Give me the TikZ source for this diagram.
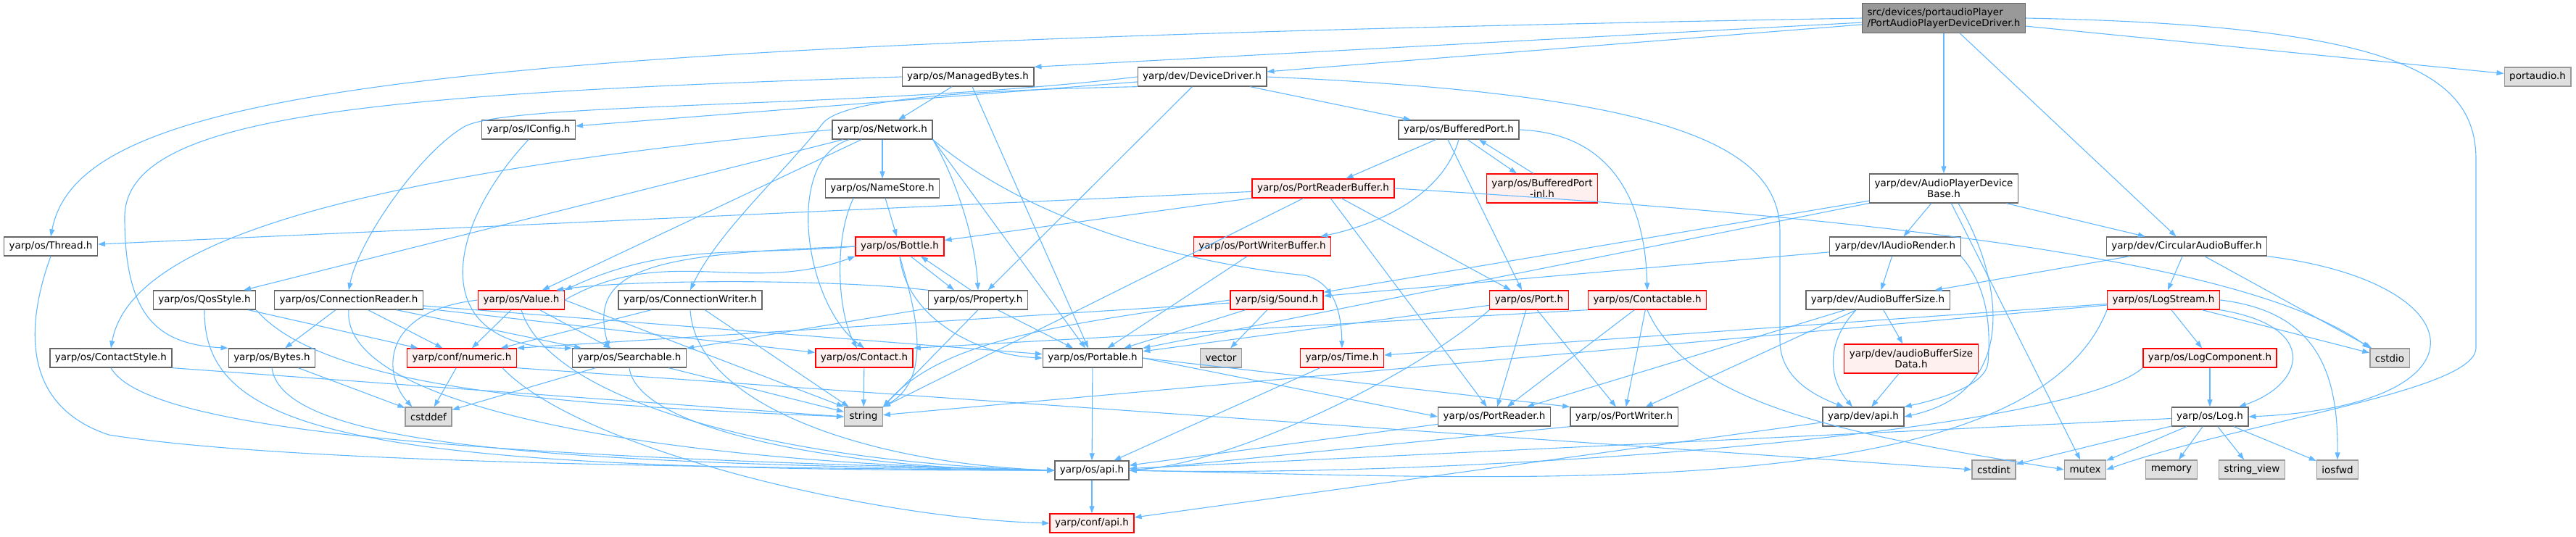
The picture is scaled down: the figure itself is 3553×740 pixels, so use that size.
\documentclass[tikz,border=0pt]{standalone}
\usepackage{fontspec}
\setmainfont{DejaVu Sans}
\usetikzlibrary{arrows.meta}

\definecolor{edgeblue}{HTML}{63B8FF}
\definecolor{boxgray}{HTML}{666666}
\definecolor{redfill}{HTML}{FFF0F0}
\definecolor{sysfill}{HTML}{E0E0E0}
\definecolor{sysline}{HTML}{999999}
\definecolor{rootfill}{HTML}{999999}

\begin{document}
\begin{tikzpicture}[
      x=1pt, y=-1pt,
      hdr/.style={rectangle, draw=boxgray, line width=1.3pt, fill=white, minimum height=26pt, inner xsep=7pt, inner ysep=1pt, align=center, font=\fontsize{13.5}{15}\selectfont},
      redhdr/.style={hdr, draw=red, fill=redfill},
      syshdr/.style={hdr, draw=sysline, fill=sysfill},
      roothdr/.style={hdr, draw=boxgray, fill=rootfill, align=left},
      dep/.style={-{Triangle[length=10pt,width=7pt]}, line width=1.1pt, draw=edgeblue}
    ]
    \useasboundingbox (0,0) rectangle (3553,740);

    % rank 0..2
    \node[roothdr, minimum height=41pt] (root) at (2681,25) {src/devices/portaudioPlayer\\/PortAudioPlayerDeviceDriver.h};
    \node[hdr] (managedbytes) at (1335,106) {yarp/os/ManagedBytes.h};
    \node[hdr] (devicedriver) at (1658,106) {yarp/dev/DeviceDriver.h};
    \node[syshdr] (portaudio) at (3500,106) {portaudio.h};
    \node[hdr] (iconfig) at (729,179) {yarp/os/IConfig.h};
    \node[hdr] (network) at (1217,179) {yarp/os/Network.h};
    \node[hdr] (bufport) at (2012,179) {yarp/os/BufferedPort.h};

    % rank 3..4
    \node[hdr] (namestore) at (1217,260) {yarp/os/NameStore.h};
    \node[redhdr] (portreaderbuf) at (1825,260) {yarp/os/PortReaderBuffer.h};
    \node[redhdr, minimum height=40pt] (bufportinl) at (2127,260) {yarp/os/BufferedPort\\-inl.h};
    \node[hdr, minimum height=40pt] (apdbase) at (2681,260) {yarp/dev/AudioPlayerDevice\\Base.h};
    \node[hdr] (thread) at (70,340) {yarp/os/Thread.h};
    \node[redhdr] (bottle) at (1241,340) {yarp/os/Bottle.h};
    \node[redhdr] (portwriterbuf) at (1741,340) {yarp/os/PortWriterBuffer.h};
    \node[hdr] (iaudiorender) at (2614,340) {yarp/dev/IAudioRender.h};
    \node[hdr] (circbuf) at (3016,340) {yarp/dev/CircularAudioBuffer.h};

    % rank 5
    \node[hdr] (qosstyle) at (282,414) {yarp/os/QosStyle.h};
    \node[hdr] (connreader) at (481,414) {yarp/os/ConnectionReader.h};
    \node[redhdr] (value) at (719,414) {yarp/os/Value.h};
    \node[hdr] (connwriter) at (952,414) {yarp/os/ConnectionWriter.h};
    \node[hdr] (property) at (1349,414) {yarp/os/Property.h};
    \node[redhdr] (sound) at (1761,414) {yarp/sig/Sound.h};
    \node[redhdr] (port) at (2109,414) {yarp/os/Port.h};
    \node[redhdr] (contactable) at (2272,414) {yarp/os/Contactable.h};
    \node[hdr] (audiobufsize) at (2590,414) {yarp/dev/AudioBufferSize.h};
    \node[redhdr] (logstream) at (2984,414) {yarp/os/LogStream.h};

    % rank 6
    \node[hdr] (contactstyle) at (153,494) {yarp/os/ContactStyle.h};
    \node[hdr] (bytes) at (375,494) {yarp/os/Bytes.h};
    \node[redhdr] (numeric) at (637,494) {yarp/conf/numeric.h};
    \node[hdr] (searchable) at (868,494) {yarp/os/Searchable.h};
    \node[redhdr] (contact) at (1192,494) {yarp/os/Contact.h};
    \node[hdr] (portable) at (1507,494) {yarp/os/Portable.h};
    \node[syshdr] (vector) at (1684,494) {vector};
    \node[redhdr] (time) at (1851,494) {yarp/os/Time.h};
    \node[redhdr, minimum height=40pt] (audiobufdata) at (2636,495) {yarp/dev/audioBufferSize\\Data.h};
    \node[redhdr] (logcomponent) at (3048,494) {yarp/os/LogComponent.h};
    \node[syshdr] (cstdio) at (3296,494) {cstdio};

    % rank 7..9
    \node[syshdr] (cstddef) at (591,575) {cstddef};
    \node[syshdr] (string) at (1191,575) {string};
    \node[hdr] (portreader) at (2061,575) {yarp/os/PortReader.h};
    \node[hdr] (portwriter) at (2240,575) {yarp/os/PortWriter.h};
    \node[hdr] (devapi) at (2570,575) {yarp/dev/api.h};
    \node[hdr] (log) at (3048,575) {yarp/os/Log.h};
    \node[hdr] (osapi) at (1506,649) {yarp/os/api.h};
    \node[syshdr] (cstdint) at (2750,648) {cstdint};
    \node[syshdr] (mutex) at (2876,648) {mutex};
    \node[syshdr] (memory) at (2995,648) {memory};
    \node[syshdr] (stringview) at (3106,648) {string\_view};
    \node[syshdr] (iosfwd) at (3224,648) {iosfwd};
    \node[redhdr] (confapi) at (1506,722) {yarp/conf/api.h};

    % root
    \foreach \dst in {devicedriver, apdbase, circbuf, portaudio}
      \draw[dep] (root) -- (\dst);
    \draw[dep] (root) -- (managedbytes.north east);
    \draw[dep] (root.west) .. controls (600,60) and (110,120) .. (thread.north);
    \draw[dep] (root.east) .. controls (3300,35) and (3415,100) .. (3415,220) -- (3415,480) .. controls (3415,540) and (3100,580) .. (mutex.east);

    % managed bytes, device driver
    \draw[dep] (managedbytes) -- (network);
    \draw[dep] (managedbytes) -- (portable);
    \draw[dep] (managedbytes.west) .. controls (500,130) and (172,160) .. (172,300) .. controls (172,440) and (220,475) .. (bytes.north west);
    \foreach \dst in {iconfig, bufport, property}
      \draw[dep] (devicedriver) -- (\dst);
    \draw[dep] (devicedriver.west) .. controls (1200,150) and (700,140) .. (640,175) .. controls (580,210) and (495,330) .. (connreader.north);
    \draw[dep] (devicedriver.south west) .. controls (1300,125) and (1160,140) .. (1135,170) .. controls (1080,240) and (990,320) .. (connwriter.north);
    \draw[dep] (devicedriver.east) .. controls (2300,130) and (2455,200) .. (2455,320) -- (2455,470) .. controls (2455,520) and (2500,545) .. ([xshift=-27pt]devapi.north);
    \draw[dep] (iconfig.south) .. controls (610,320) and (590,480) .. (searchable.north west);

    % network, name store
    \foreach \dst in {namestore, qosstyle, value}
      \draw[dep] (network) -- (\dst);
    \draw[dep] (network.south east) -- (portable);
    \draw[dep] (network.south east) .. controls (1320,250) and (1345,330) .. (property.north);
    \draw[dep] (network.west) .. controls (500,240) and (180,330) .. (contactstyle.north);
    \draw[dep] (network) .. controls (1080,220) and (1110,420) .. (contact.north);
    \draw[dep] (network.south east) .. controls (1450,330) and (1700,370) .. (1800,380) .. controls (1840,390) and (1850,430) .. (time.north);
    \draw[dep] (namestore) -- (bottle);
    \draw[dep] ([xshift=-40pt]namestore.south) .. controls (1150,330) and (1155,430) .. ([xshift=-10pt]contact.north);

    % bottle, property, value
    \draw[dep] (bottle.west) to[out=185,in=25] (value.north east);
    \draw[dep] ([xshift=15pt]bottle.south) -- ([xshift=-33pt]property.north);
    \draw[dep] (bottle.south) .. controls (1250,440) and (1350,490) .. (portable.west);
    \draw[dep] (bottle.west) .. controls (900,350) and (810,370) .. ([xshift=-28pt]searchable.north);
    \draw[dep] (bottle.south) .. controls (1260,420) and (1290,520) .. (string.north east);
    \draw[dep] ([xshift=-10pt]property.north) -- ([xshift=29pt]bottle.south);
    \foreach \dst in {portable, searchable}
      \draw[dep] (property) -- (\dst);
    \draw[dep] (property.south) -- (string.north east);
    \draw[dep] (property.north west) .. controls (1150,385) and (870,385) .. ([xshift=-12pt]value.north east);
    \draw[dep] (value.east) to[out=30,in=200] (bottle.south west);
    \foreach \dst in {numeric, searchable}
      \draw[dep] (value) -- (\dst);
    \draw[dep] (value.east) -- (string.north west);
    \draw[dep] (value.west) .. controls (520,430) and (530,520) .. ([xshift=10pt]cstddef.north west);

    % buffered port and buffers
    \draw[dep] (bufport) -- (portreaderbuf);
    \draw[dep] (bufport.south) .. controls (1990,270) and (1900,310) .. ([xshift=-15pt]portwriterbuf.north east);
    \draw[dep] ([xshift=-15pt]bufport.south) -- ([xshift=-10pt]port.north);
    \draw[dep] ([xshift=12pt]bufport.south) -- ([xshift=-35pt]bufportinl.north);
    \draw[dep] ([xshift=-12pt]bufportinl.north) -- ([xshift=28pt]bufport.south);
    \draw[dep] (bufport.east) .. controls (2250,185) and (2270,320) .. (contactable.north);
    \foreach \dst in {thread, bottle, portreader, port, string}
      \draw[dep] (portreaderbuf) -- (\dst);
    \draw[dep] (portreaderbuf.east) .. controls (2600,300) and (3100,360) .. (cstdio.north west);
    \draw[dep] (portwriterbuf) -- (portable);

    % audio device side
    \foreach \dst in {iaudiorender, circbuf, mutex, sound, portable}
      \draw[dep] (apdbase) -- (\dst);
    \draw[dep] ([xshift=20pt]apdbase.south) .. controls (2760,380) and (2790,540) .. (devapi.east);
    \foreach \dst in {audiobufsize, sound}
      \draw[dep] (iaudiorender) -- (\dst);
    \draw[dep] (iaudiorender.south east) .. controls (2745,400) and (2745,460) .. (2742,500) .. controls (2740,530) and (2680,550) .. (devapi.north east);
    \foreach \dst in {audiobufsize, logstream, cstdio}
      \draw[dep] (circbuf) -- (\dst);
    \draw[dep] (circbuf.south east) .. controls (3420,390) and (3440,560) .. (log.east);
    \foreach \dst in {audiobufdata, portreader, portwriter}
      \draw[dep] (audiobufsize) -- (\dst);
    \draw[dep] ([xshift=-30pt]audiobufsize.south) .. controls (2520,470) and (2520,520) .. ([xshift=-15pt]devapi.north);
    \draw[dep] (audiobufdata) -- (devapi);

    % logging
    \foreach \dst in {logcomponent, cstdio, string, time}
      \draw[dep] (logstream) -- (\dst);
    \draw[dep] (logstream.south east) .. controls (3200,450) and (3180,530) .. ([xshift=40pt]log.north);
    \draw[dep] (logstream.east) .. controls (3200,430) and (3225,520) .. (iosfwd.north);
    \draw[dep] (logstream.south west) .. controls (2800,700) and (2100,660) .. (osapi.east);
    \draw[dep] (logcomponent) -- (log);
    \draw[dep] (logcomponent.south west) .. controls (2850,600) and (2000,660) .. (osapi.east);
    \foreach \dst in {cstdint, mutex, memory, stringview, iosfwd, osapi}
      \draw[dep] (log) -- (\dst);

    % styles, connections
    \draw[dep] (qosstyle) -- (numeric);
    \draw[dep] (qosstyle.south east) .. controls (450,540) and (800,560) .. (string.west);
    \foreach \dst in {bytes, numeric, searchable, contact, portable}
      \draw[dep] (connreader) -- (\dst);
    \foreach \dst in {numeric, string}
      \draw[dep] (connwriter) -- (\dst);
    \draw[dep] (contactstyle.south east) -- (string.west);
    \draw[dep] (bytes) -- (cstddef);
    \draw[dep] (numeric) -- (cstddef);
    \draw[dep] (numeric.south east) -- (cstdint.west);
    \draw[dep] ([xshift=-20pt]numeric.south east) .. controls (800,620) and (1200,715) .. (confapi.west);
    \foreach \dst in {cstddef, string}
      \draw[dep] (searchable) -- (\dst);
    \draw[dep] (contact) -- (string);

    % ports, sound
    \draw[dep] (portable) -- (osapi);
    \draw[dep] (portable.east) -- (portreader.west);
    \draw[dep] (portable.east) -- (portwriter.north west);
    \foreach \dst in {portable, vector}
      \draw[dep] (sound) -- (\dst);
    \draw[dep] (sound) -- (numeric.north east);
    \draw[dep] (sound.west) .. controls (1450,450) and (1300,470) .. (string.north east);
    \foreach \dst in {portreader, portwriter, portable}
      \draw[dep] (port) -- (\dst);
    \draw[dep] (port.south west) .. controls (1950,520) and (1700,640) .. (osapi.east);
    \foreach \dst in {portreader, portwriter}
      \draw[dep] (contactable) -- (\dst);
    \draw[dep] (contactable.south west) -- (contact.north east);
    \draw[dep] (contactable.south) .. controls (2330,560) and (2550,600) .. (mutex.west);

    % into the api headers
    \draw[dep] (thread.south) .. controls (35,450) and (30,560) .. (150,600) .. controls (400,640) and (1000,645) .. (osapi.west);
    \draw[dep] (contactstyle.south) .. controls (200,590) and (600,630) .. (osapi.west);
    \draw[dep] (qosstyle.south) .. controls (280,600) and (500,650) .. (osapi.west);
    \draw[dep] (bytes.south) .. controls (390,620) and (800,640) .. (osapi.west);
    \draw[dep] (connreader.south) .. controls (470,560) and (900,640) .. (osapi.west);
    \draw[dep] (connwriter.south) .. controls (960,560) and (1200,640) .. (osapi.west);
    \draw[dep] (searchable.south) .. controls (880,600) and (1200,650) .. (osapi.west);
    \draw[dep] (value.south) .. controls (760,560) and (1100,640) .. (osapi.west);
    \draw[dep] (portreader) -- (osapi);
    \draw[dep] (portwriter.south west) -- (osapi.east);
    \draw[dep] (time) -- (osapi);
    \draw[dep] (osapi) -- (confapi);
    \draw[dep] (devapi) -- (confapi);
\end{tikzpicture}
\end{document}
